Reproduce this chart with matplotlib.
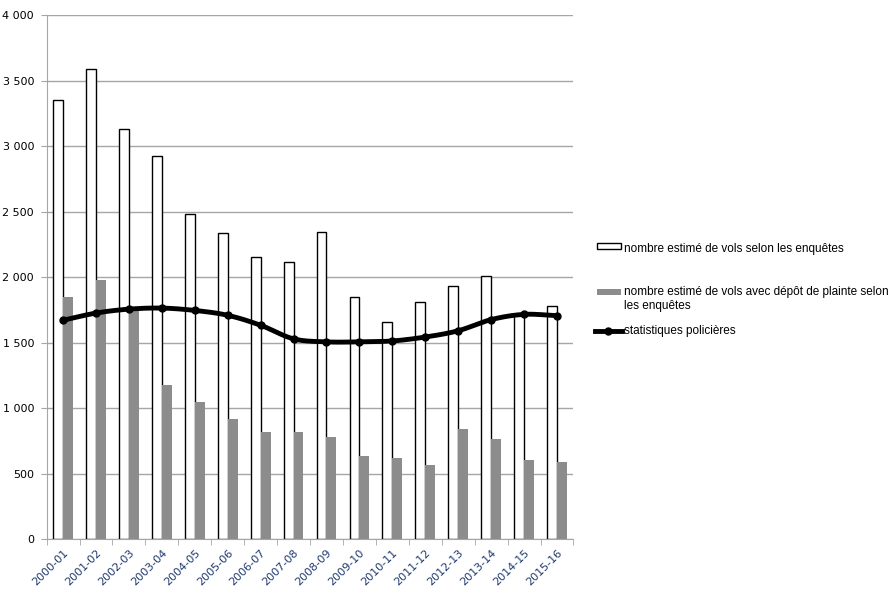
import numpy as np
import matplotlib.pyplot as plt
from matplotlib.patches import Rectangle
from matplotlib.lines import Line2D

# Data
periods = ["2000-01", "2001-02", "2002-03", "2003-04", "2004-05", "2005-06",
           "2006-07", "2007-08", "2008-09", "2009-10", "2010-11", "2011-12",
           "2012-13", "2013-14", "2014-15", "2015-16"]
vols_enquetes = [3355, 3590, 3130, 2925, 2485, 2335, 2150, 2115,
                 2345, 1850, 1660, 1810, 1935, 2005, 1720, 1780]
vols_plainte = [1850, 1975, 1740, 1175, 1045, 915, 820, 820,
                780, 635, 615, 568, 840, 765, 600, 588]
stats_police = [1670, 1725, 1755, 1763, 1745, 1708, 1632, 1528,
                1505, 1505, 1512, 1542, 1590, 1675, 1715, 1705]

label_enq = "nombre estimé de vols selon les enquêtes"
label_pl = ["nombre estimé de vols avec dépôt de plainte selon", "les enquêtes"]
label_pol = "statistiques policières"

GREY = "#8c8c8c"


def catmull_rom(x, y, n=20):
    # smooth curve through the points, like Excel's smoothed line
    x = np.asarray(x, float)
    y = np.asarray(y, float)
    px = np.concatenate([[2 * x[0] - x[1]], x, [2 * x[-1] - x[-2]]])
    py = np.concatenate([[2 * y[0] - y[1]], y, [2 * y[-1] - y[-2]]])
    xs, ys = [], []
    t = np.linspace(0, 1, n, endpoint=False)
    for i in range(1, len(px) - 2):
        for p, out in ((px, xs), (py, ys)):
            p0, p1, p2, p3 = p[i - 1], p[i], p[i + 1], p[i + 2]
            out.extend(0.5 * (2 * p1 + (-p0 + p2) * t
                              + (2 * p0 - 5 * p1 + 4 * p2 - p3) * t ** 2
                              + (-p0 + 3 * p1 - 3 * p2 + p3) * t ** 3))
    xs.append(x[-1])
    ys.append(y[-1])
    return np.array(xs), np.array(ys)


W, H = 896, 594
fig = plt.figure(figsize=(W / 100, H / 100), dpi=100)
ax = fig.add_axes([0.052, 0.0926, 0.588, 0.882])

x = np.arange(len(periods))
w = 0.30
ax.bar(x - w / 2, vols_enquetes, width=w, color="white", edgecolor="black",
       linewidth=1.0, zorder=2)
ax.bar(x + w / 2, vols_plainte, width=w, color=GREY, edgecolor="none",
       zorder=2)
sx, sy = catmull_rom(x, stats_police)
ax.plot(sx, sy, color="black", linewidth=3.5, zorder=3, solid_capstyle="round")
ax.plot(x, stats_police, "o", color="black", markersize=5, zorder=4)

ax.set_xlim(-0.5, len(periods) - 0.5)
ax.set_ylim(0, 4000)
ax.set_yticks(np.arange(0, 4001, 500))
ax.set_yticklabels([f"{v:,}".replace(",", " ") for v in range(0, 4001, 500)],
                   fontsize=8)
ax.yaxis.grid(True, color="#a6a6a6", linewidth=1.0, zorder=0)
ax.set_axisbelow(True)

ax.set_xticks(x)
ax.set_xticklabels(periods, rotation=45, ha="right", rotation_mode="anchor",
                   fontsize=8, color="#1f3a6e")
ax.set_xticks(np.arange(-0.5, len(periods), 1), minor=True)
ax.tick_params(axis="x", which="major", length=0, pad=6)
ax.tick_params(axis="x", which="minor", length=4, color="#a6a6a6")
ax.tick_params(axis="y", length=4, color="#a6a6a6", pad=5)

for side in ("top", "right"):
    ax.spines[side].set_visible(False)
ax.spines["left"].set_color("#a6a6a6")
ax.spines["bottom"].set_color("#a6a6a6")


# legend drawn by hand, in pixel positions converted to figure fractions
def fx(px):
    return px / W


def fy(py):
    return 1 - py / H


txt = dict(fontsize=8.5, family="Liberation Sans", va="center", ha="left")
fig.patches.append(Rectangle((fx(597), fy(249)), fx(24), 6 / H,
                             facecolor="white", edgecolor="black",
                             linewidth=1.0, transform=fig.transFigure))
fig.text(fx(624), fy(249), label_enq, **txt)
fig.patches.append(Rectangle((fx(597), fy(295)), fx(24), 6 / H,
                             facecolor=GREY, edgecolor="none",
                             transform=fig.transFigure))
fig.text(fx(624), fy(292), label_pl[0], **txt)
fig.text(fx(624), fy(306), label_pl[1], **txt)
fig.lines.append(Line2D([fx(595), fx(622)], [fy(331), fy(331)],
                        color="black", linewidth=3.5,
                        transform=fig.transFigure))
fig.lines.append(Line2D([fx(608)], [fy(331)], marker="o", markersize=5,
                        color="black", transform=fig.transFigure))
fig.text(fx(624), fy(331), label_pol, **txt)

fig.savefig("out.png", dpi=100)
